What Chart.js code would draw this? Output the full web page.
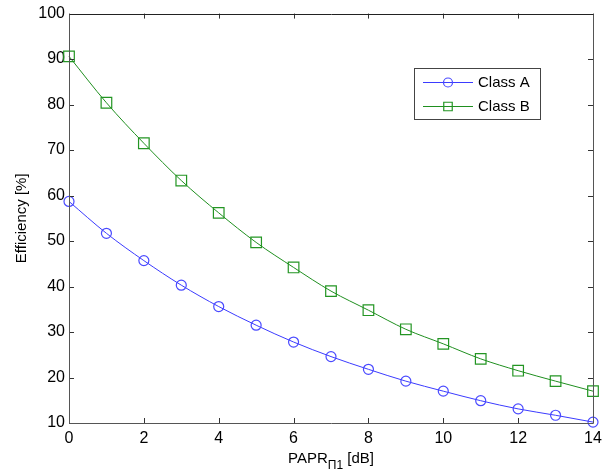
<!DOCTYPE html>
<html>
<head>
<meta charset="utf-8">
<script src="https://cdn.jsdelivr.net/npm/chart.js@4.4.1/dist/chart.umd.min.js"></script>
<style>
  html, body { margin: 0; padding: 0; background: #fff; }
  #wrap { width: 616px; height: 473px; }
</style>
</head>
<body>
<div id="wrap"><canvas id="chart" width="616" height="473"></canvas></div>
<script>
// --- data ---
const papr = [0, 1, 2, 3, 4, 5, 6, 7, 8, 9, 10, 11, 12, 13, 14];
const classA = [58.7, 51.7, 45.7, 40.3, 35.6, 31.5, 27.8, 24.6, 21.8, 19.2, 17.0, 14.9, 13.1, 11.7, 10.2];
const classB = [90.6, 80.4, 71.5, 63.3, 56.2, 49.7, 44.2, 39.0, 34.8, 30.6, 27.4, 24.1, 21.5, 19.2, 17.0];
const xTicks = [0, 2, 4, 6, 8, 10, 12, 14];
const yTicks = [10, 20, 30, 40, 50, 60, 70, 80, 90, 100];

const FONT = 'Arial, "Liberation Sans", sans-serif';
const BLUE = '#3b3bff';
const GREEN = '#1f8f1f';

// axes box, inward ticks, axis titles and legend (MATLAB look)
const matlabFrame = {
    id: 'matlabFrame',
    afterDatasetsDraw(chart) {
        const ctx = chart.ctx;
        const a = chart.chartArea;
        const xs = chart.scales.x, ys = chart.scales.y;
        ctx.save();
        ctx.lineWidth = 1;

        // ticks pointing inward, on all four sides
        ctx.strokeStyle = '#333';
        ctx.beginPath();
        xTicks.forEach(v => {
            const px = Math.round(xs.getPixelForValue(v)) + 0.5;
            ctx.moveTo(px, a.bottom); ctx.lineTo(px, a.bottom - 5);
            ctx.moveTo(px, a.top); ctx.lineTo(px, a.top + 5);
        });
        yTicks.forEach(v => {
            const py = Math.round(ys.getPixelForValue(v)) + 0.5;
            ctx.moveTo(a.left, py); ctx.lineTo(a.left + 5, py);
            ctx.moveTo(a.right, py); ctx.lineTo(a.right - 5, py);
        });
        ctx.stroke();

        // box
        const l = Math.round(a.left) + 0.5, r = Math.round(a.right) + 0.5;
        const t = Math.round(a.top) + 0.5, b = Math.round(a.bottom) + 0.5;
        ctx.strokeStyle = '#222';
        ctx.beginPath(); ctx.moveTo(l, t); ctx.lineTo(r, t); ctx.stroke();
        ctx.strokeStyle = '#555';
        ctx.beginPath(); ctx.moveTo(l, t); ctx.lineTo(l, b); ctx.lineTo(r, b); ctx.lineTo(r, t); ctx.stroke();

        // y title
        ctx.fillStyle = '#000';
        ctx.font = '15px ' + FONT;
        ctx.textAlign = 'center';
        ctx.textBaseline = 'middle';
        ctx.save();
        ctx.translate(22, (a.top + a.bottom) / 2);
        ctx.rotate(-Math.PI / 2);
        ctx.fillText('Efficiency [%]', 0, 0);
        ctx.restore();

        // x title with subscript
        const main = 'PAPR', sub = 'Π1', tail = ' [dB]';
        ctx.font = '15px ' + FONT;
        const wMain = ctx.measureText(main).width;
        const wTail = ctx.measureText(tail).width;
        ctx.font = '12px ' + FONT;
        const wSub = ctx.measureText(sub).width;
        let x0 = (a.left + a.right) / 2 - (wMain + wSub + wTail) / 2;
        const yT = 459;
        ctx.textAlign = 'left';
        ctx.font = '15px ' + FONT;
        ctx.fillText(main, x0, yT);
        ctx.font = '12px ' + FONT;
        ctx.fillText(sub, x0 + wMain, yT + 7);
        ctx.font = '15px ' + FONT;
        ctx.fillText(tail, x0 + wMain + wSub, yT);

        // legend
        const lx = 414, ly = 68, lw = 126, lh = 51;
        ctx.fillStyle = '#fff';
        ctx.fillRect(lx, ly, lw, lh);
        ctx.strokeStyle = '#444';
        ctx.strokeRect(lx + 0.5, ly + 0.5, lw, lh);
        const rows = [82, 106];
        chart.data.datasets.forEach((ds, i) => {
            const yy = rows[i] + 0.5;
            ctx.strokeStyle = ds.borderColor;
            ctx.lineWidth = 1;
            ctx.beginPath(); ctx.moveTo(423, yy); ctx.lineTo(473, yy); ctx.stroke();
            ctx.fillStyle = 'rgba(0,0,0,0)';
            ctx.strokeStyle = ds.pointBorderColor;
            ctx.lineWidth = ds.pointBorderWidth;
            Chart.helpers.drawPoint(ctx, {
                pointStyle: ds.pointStyle,
                radius: ds.pointStyle === 'rect' ? 6 : 4.5,
                borderWidth: ds.pointBorderWidth
            }, 448, yy);
            ctx.fillStyle = '#000';
            ctx.font = '15px ' + FONT;
            ctx.textBaseline = 'middle';
            ctx.fillText(ds.label, 478, rows[i] + 1);
        });
        ctx.restore();
    }
};

new Chart(document.getElementById('chart'), {
    type: 'line',
    data: {
        datasets: [{
            label: 'Class A',
            data: papr.map((x, i) => ({ x: x, y: classA[i] })),
            borderColor: BLUE,
            borderWidth: 1,
            pointStyle: 'circle',
            pointRadius: 5,
            pointBorderColor: '#4a4aff',
            pointBackgroundColor: 'rgba(0,0,0,0)',
            pointBorderWidth: 1.2,
            cubicInterpolationMode: 'monotone'
        }, {
            label: 'Class B',
            data: papr.map((x, i) => ({ x: x, y: classB[i] })),
            borderColor: GREEN,
            borderWidth: 1,
            pointStyle: 'rect',
            pointRadius: 7.5,
            pointBorderColor: '#239523',
            pointBackgroundColor: 'rgba(0,0,0,0)',
            pointBorderWidth: 1.2,
            cubicInterpolationMode: 'monotone'
        }]
    },
    options: {
        responsive: false,
        animation: false,
        clip: false,
        layout: { padding: { left: 0, right: 23, top: 10, bottom: 0 } },
        plugins: { legend: { display: false }, tooltip: { enabled: false } },
        scales: {
            x: {
                type: 'linear',
                min: 0, max: 14,
                afterBuildTicks: s => { s.ticks = xTicks.map(v => ({ value: v })); },
                afterFit: s => { s.height = 50; },
                grid: { display: false, drawTicks: false, tickLength: 0 },
                border: { display: false },
                ticks: { color: '#000', padding: 6, maxRotation: 0, font: { family: FONT, size: 16 } }
            },
            y: {
                type: 'linear',
                min: 10, max: 100,
                afterBuildTicks: s => { s.ticks = yTicks.map(v => ({ value: v })); },
                afterFit: s => { s.width = 69; },
                grid: { display: false, drawTicks: false, tickLength: 0 },
                border: { display: false },
                ticks: { color: '#000', padding: 4, font: { family: FONT, size: 16 } }
            }
        }
    },
    plugins: [matlabFrame]
});
</script>
</body>
</html>
